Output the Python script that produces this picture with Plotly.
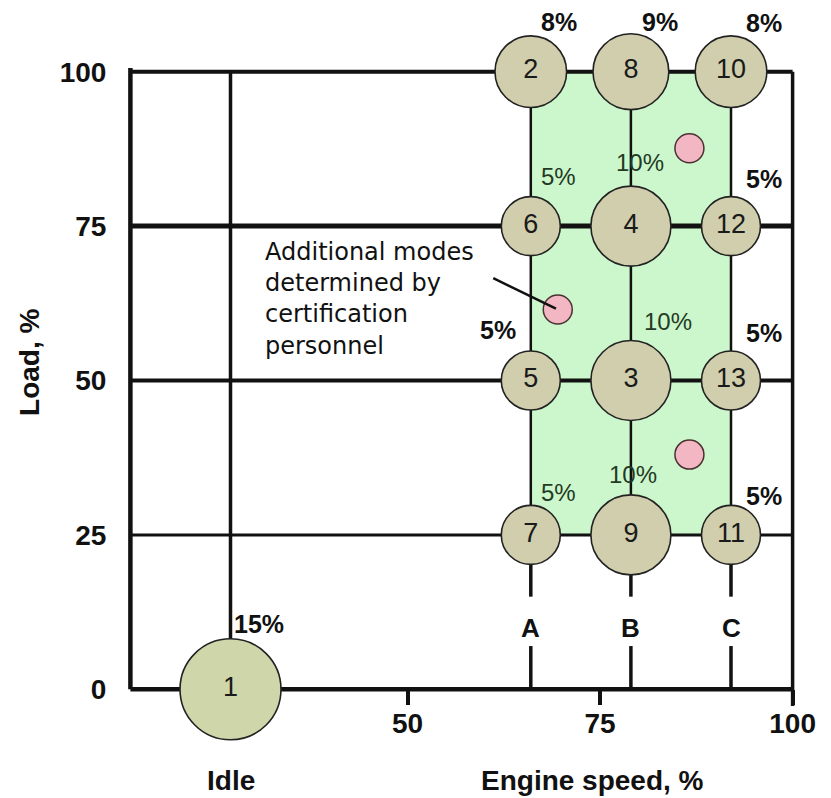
import plotly.graph_objects as go

# ESC 13-mode steady-state test cycle
mode_no = list(range(1, 14))
mode_speed = ["Idle", "A", "B", "B", "A", "A", "A", "B", "B", "C", "C", "C", "C"]
mode_load = [0, 100, 50, 75, 50, 75, 25, 100, 25, 100, 25, 75, 50]
mode_weight = [15, 8, 10, 10, 5, 5, 5, 9, 10, 8, 5, 5, 5]

# engine speed (%) of each named speed
speed_names = ["Idle", "A", "B", "C"]
speed_pct = [27, 66, 79, 92]

# additional random modes chosen by certification personnel
extra_speed = [86.6, 69.5, 86.6]
extra_load = [87.6, 61.5, 38.0]

load_ticks = [0, 25, 50, 75, 100]
speed_ticks = [50, 75, 100]
note_lines = ["Additional modes", "determined by", "certification", "personnel"]

# ---------------------------------------------------------------- layout setup
X_RANGE = [12, 102]
Y_RANGE = [-4, 104]
X_LEFT = 14            # left edge of the drawn frame
W, H = 831, 798
MARGIN = dict(l=115, r=23, t=47, b=84)

BLACK = "#111111"
TAN = "#d0ceac"
IDLE_FILL = "#cfd6a9"
GREEN = "#ccf7cc"
PINK = "#f3b6c3"
TXT_DARK = "#243a24"
FONT = "Arial, Liberation Sans, sans-serif"

spd = dict(zip(speed_names, speed_pct))
xs = [spd[s] for s in mode_speed]


def yfrac(v):
    """Load value -> paper fraction of the plotting area."""
    return (v - Y_RANGE[0]) / (Y_RANGE[1] - Y_RANGE[0])


def xfrac(v):
    return (v - X_RANGE[0]) / (X_RANGE[1] - X_RANGE[0])


shapes = []


def hline(y, x0, x1, w):
    shapes.append(dict(type="line", xref="x", yref="y", x0=x0, x1=x1, y0=y, y1=y,
                       line=dict(color=BLACK, width=w), layer="below"))


def vline(x, y0, y1, w):
    shapes.append(dict(type="line", xref="x", yref="y", x0=x, x1=x, y0=y0, y1=y1,
                       line=dict(color=BLACK, width=w), layer="below"))


# shaded operating area between speeds A and C, 25..100 % load
shapes.append(dict(type="rect", xref="x", yref="y", x0=spd["A"], x1=spd["C"],
                   y0=25, y1=100, fillcolor=GREEN, line=dict(width=0), layer="below"))

# horizontal load lines
line_w = {25: 3, 50: 4, 75: 5, 100: 4}
for ld in load_ticks[1:]:
    hline(ld, X_LEFT, 100, line_w[ld])

# idle speed line
vline(spd["Idle"], 0, 100, 3.5)
# speed lines A, B, C (broken around their labels)
for s in ["A", "B", "C"]:
    vline(spd[s], 25, 100, 2.5)
    vline(spd[s], 15, 25, 3.5)
    vline(spd[s], 0, 7, 3.5)

# frame
vline(X_LEFT, 0, 100.6, 4.5)
hline(0, X_LEFT, 100, 4.5)
vline(100, -2.7, 100, 3.5)

fig = go.Figure()

# test modes, sized by weighting factor
sizes = [38 + 4.2 * w for w in mode_weight]
fills = [IDLE_FILL if s == "Idle" else TAN for s in mode_speed]
fig.add_trace(go.Scatter(
    x=xs, y=mode_load, mode="markers+text",
    text=[str(n) for n in mode_no], textposition="middle center",
    textfont=dict(family=FONT, size=27, color="#1a1a1a"),
    marker=dict(size=sizes, color=fills, line=dict(color="#222222", width=1.6),
                opacity=1),
    cliponaxis=False, hoverinfo="skip", showlegend=False))

# extra modes
fig.add_trace(go.Scatter(
    x=extra_speed, y=extra_load, mode="markers",
    marker=dict(size=29, color=PINK, line=dict(color="#4a3232", width=1.5)),
    cliponaxis=False, hoverinfo="skip", showlegend=False))

annotations = []

# weighting factor labels: (x shift, y shift, bold)
label_pos = {
    1: (28, 65, True), 2: (28, 50, True), 8: (29, 50, True), 10: (33, 49, True),
    6: (28, 50, False), 4: (9, 64, False), 12: (33, 47, True),
    5: (-33, 51, True), 3: (37, 59, False), 13: (33, 48, True),
    7: (28, 42, False), 9: (2, 60, False), 11: (33, 39, True),
}
for n, x, y, w in zip(mode_no, xs, mode_load, mode_weight):
    dx, dy, bold = label_pos[n]
    annotations.append(dict(
        x=x, y=y, xref="x", yref="y", text=f"{w}%", showarrow=False,
        xshift=dx, yshift=dy,
        font=dict(family=FONT, size=25 if bold else 24,
                  color=BLACK if bold else TXT_DARK,
                  weight="bold" if bold else "normal")))

# speed names on the speed lines
for s in ["A", "B", "C"]:
    annotations.append(dict(x=spd[s], y=10, xref="x", yref="y", text=s,
                            showarrow=False,
                            font=dict(family=FONT, size=26, color=BLACK, weight="bold")))

# note with leader to an extra mode
annotations.append(dict(
    x=31.2, y=73.4, xref="x", yref="y", xanchor="left", yanchor="top", align="left",
    text="<br>".join(note_lines), showarrow=False,
    font=dict(family="DejaVu Sans, sans-serif", size=24, color=BLACK)))
annotations.append(dict(
    x=extra_speed[1], y=extra_load[1], xref="x", yref="y", text="",
    showarrow=True, arrowhead=0, arrowwidth=2.5, arrowcolor=BLACK,
    ax=-66, ay=-32, standoff=2))

# axis titles
title_font = dict(family=FONT, size=28, color=BLACK, weight="bold")
annotations.append(dict(x=spd["Idle"], y=yfrac(-14.8), xref="x", yref="paper",
                        xanchor="center", yanchor="middle",
                        text="Idle", showarrow=False, font=title_font))
annotations.append(dict(x=74, y=yfrac(-14.8), xref="x", yref="paper",
                        xanchor="center", yanchor="middle",
                        text="Engine speed, %", showarrow=False, font=title_font))
annotations.append(dict(x=-0.1227, y=yfrac(53), xref="paper", yref="paper",
                        xanchor="center", yanchor="middle",
                        text="Load, %", textangle=-90, showarrow=False,
                        font=title_font))

tick_font = dict(family=FONT, size=28, color=BLACK, weight="bold")
fig.update_layout(
    width=W, height=H, margin=MARGIN,
    paper_bgcolor="white", plot_bgcolor="white",
    shapes=shapes, annotations=annotations, showlegend=False,
    xaxis=dict(range=X_RANGE, showgrid=False, zeroline=False, showline=False,
               tickvals=speed_ticks, ticktext=[str(t) for t in speed_ticks],
               ticks="outside", ticklen=15, tickwidth=3.5, tickcolor=BLACK,
               tickfont=tick_font, ticklabelstandoff=-6, anchor="free",
               position=yfrac(0), fixedrange=True),
    yaxis=dict(range=Y_RANGE, showgrid=False, zeroline=False, showline=False,
               tickvals=load_ticks, ticktext=[str(t) for t in load_ticks],
               ticks="", tickfont=tick_font, ticklabelstandoff=24, anchor="free",
               position=xfrac(X_LEFT), fixedrange=True),
)

fig.write_html("out.html")
